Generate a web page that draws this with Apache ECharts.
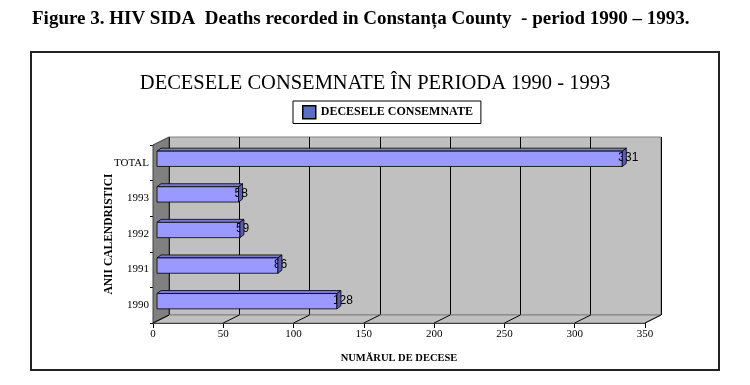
<!DOCTYPE html>
<html>
<head>
<meta charset="utf-8">
<script src="https://cdn.jsdelivr.net/npm/echarts@6/dist/echarts.min.js"></script>
<style>
  html, body { margin: 0; padding: 0; background: #fff; }
  #chart { width: 750px; height: 385px; }
</style>
</head>
<body>
<div id="chart"></div>
<script>
// ---- data ----
const categories = ['1990', '1991', '1992', '1993', 'TOTAL'];
const deaths = [128, 86, 59, 58, 331];
const xTicks = [0, 50, 100, 150, 200, 250, 300, 350];
const seriesName = 'DECESELE CONSEMNATE';
const captionText = 'Figure 3. HIV SIDA  Deaths recorded in Constanța County  - period 1990 – 1993.';
const titleText = 'DECESELE CONSEMNATE ÎN PERIODA 1990 - 1993';
const xName = 'NUMĂRUL DE DECESE';
const yName = 'ANII CALENDRISTICI';

const SERIF = '"Liberation Serif", "DejaVu Serif", serif';
const DX = 16, DY = 8;      // depth of the 3D box
const BX = 4, BY = 3;       // depth of the bars

const chart = echarts.init(document.getElementById('chart'), null, { renderer: 'canvas' });

const option = {
  animation: false,
  backgroundColor: '#ffffff',
  title: [
    { text: captionText, left: 32, top: 10, padding: 0,
      textStyle: { fontFamily: SERIF, fontWeight: 'bold', fontSize: 19, color: '#000' } },
    { text: titleText, left: 'center', top: 73, padding: 0,
      textStyle: { fontFamily: SERIF, fontWeight: 'normal', fontSize: 20.5, color: '#000' } }
  ],
  legend: {
    data: [seriesName],
    left: 293, top: 101,
    borderColor: '#000', borderWidth: 1, borderRadius: 0,
    padding: [4, 8, 4, 9],
    itemWidth: 13, itemHeight: 13, itemGap: 5,
    icon: 'rect',
    itemStyle: { color: '#5a6fc4', borderColor: '#000', borderWidth: 1.5 },
    textStyle: { fontFamily: SERIF, fontWeight: 'bold', fontSize: 12, color: '#000' }
  },
  graphic: [
    { type: 'rect', shape: { x: 31, y: 52, width: 688, height: 318 },
      style: { fill: 'none', stroke: '#222', lineWidth: 2 }, silent: true }
  ],
  grid: [
    { left: 153, top: 145, width: 492, height: 178 },                   // front
    { left: 157, top: 141, width: 492, height: 178 },                   // bars
    { left: 169, top: 137, width: 492, height: 178, show: true,          // back wall
      backgroundColor: '#c0c0c0', borderColor: '#808080', borderWidth: 1, z: 0 }
  ],
  xAxis: [
    { gridIndex: 0, type: 'value', min: 0, max: 350, interval: 50,
      name: xName, nameLocation: 'middle', nameGap: 30, nameMoveOverlap: false,
      nameTextStyle: { fontFamily: SERIF, fontWeight: 'bold', fontSize: 10.5, color: '#000' },
      axisLine: { show: true, lineStyle: { color: '#000', width: 1 } },
      axisTick: { show: true, length: 5, lineStyle: { color: '#000' } },
      axisLabel: { fontFamily: SERIF, fontSize: 11, color: '#000', margin: 6 },
      splitLine: { show: false } },
    { gridIndex: 1, type: 'value', min: 0, max: 350, interval: 50, show: false },
    { gridIndex: 2, type: 'value', min: 0, max: 350, interval: 50,
      axisLine: { show: false }, axisTick: { show: false }, axisLabel: { show: false },
      splitLine: { show: true, lineStyle: { color: '#000', width: 1 } } }
  ],
  yAxis: [
    { gridIndex: 0, type: 'category', data: categories,
      name: yName, nameLocation: 'middle', nameGap: 38, nameRotate: 90, nameMoveOverlap: false,
      nameTextStyle: { fontFamily: SERIF, fontWeight: 'bold', fontSize: 11.5, color: '#000' },
      axisLine: { show: true, lineStyle: { color: '#000', width: 1 } },
      axisTick: { show: true, length: 3, lineStyle: { color: '#000' } },
      axisLabel: { fontFamily: SERIF, fontSize: 11, color: '#000', margin: 4 } },
    { gridIndex: 1, type: 'category', data: categories, show: false },
    { gridIndex: 2, type: 'category', data: categories, show: false }
  ],
  series: [
    {
      // floor, left wall and floor grid lines (from the front axis ticks)
      type: 'custom', xAxisIndex: 0, yAxisIndex: 0, z: 1, silent: true,
      data: xTicks.map(v => [v, 0]),
      renderItem: function (params, api) {
        const cs = params.coordSys;
        const by = cs.y + cs.height;
        const x = api.coord([api.value(0), 0])[0];
        const children = [];
        if (params.dataIndex === 0) {
          children.push({ type: 'polygon', shape: { points: [
              [cs.x, by], [cs.x + cs.width, by], [cs.x + cs.width + DX, by - DY], [cs.x + DX, by - DY]] },
            style: { fill: '#c0c0c0', stroke: '#808080', lineWidth: 1 } });
          children.push({ type: 'polygon', shape: { points: [
              [cs.x, cs.y], [cs.x + DX, cs.y - DY], [cs.x + DX, by - DY], [cs.x, by]] },
            style: { fill: '#808080', stroke: '#404040', lineWidth: 1 } });
        }
        children.push({ type: 'line', shape: { x1: x, y1: by, x2: x + DX, y2: by - DY },
          style: { stroke: '#000', lineWidth: 1 } });
        return { type: 'group', children: children };
      }
    },
    {
      name: seriesName,
      type: 'custom', xAxisIndex: 1, yAxisIndex: 1, z: 5,
      itemStyle: { color: '#5a6fc4' },
      data: categories.map((c, i) => [deaths[i], c]),
      encode: { x: 0, y: 1 },
      renderItem: function (params, api) {
        const v = api.value(0);
        const s = api.coord([0, api.value(1)]);
        const e = api.coord([v, api.value(1)]);
        const band = api.size([0, 1])[1];
        const h = band * 0.43;
        const top = s[1] - h / 2, bot = s[1] + h / 2;
        const x0 = s[0], x1 = e[0];
        return { type: 'group', children: [
          { type: 'polygon', shape: { points: [[x0, top], [x0 + BX, top - BY], [x1 + BX, top - BY], [x1, top]] },
            style: { fill: '#7a7ad6', stroke: '#000', lineWidth: 0.8 } },
          { type: 'rect', shape: { x: x0, y: top, width: x1 - x0, height: h },
            style: { fill: '#9999ff', stroke: '#000', lineWidth: 0.8 } },
          { type: 'text', x: x1 - 4, y: s[1] - 1,
            style: { text: String(v), fill: '#000', align: 'left', verticalAlign: 'middle',
              font: '12px "Liberation Sans", Arial, sans-serif' } },
          { type: 'polygon', shape: { points: [[x1, top], [x1 + BX, top - BY], [x1 + BX, bot - BY], [x1, bot]] },
            style: { fill: '#5c5cae', stroke: '#000', lineWidth: 0.8 } }
        ] };
      }
    }
  ]
};

chart.setOption(option);
</script>
</body>
</html>
